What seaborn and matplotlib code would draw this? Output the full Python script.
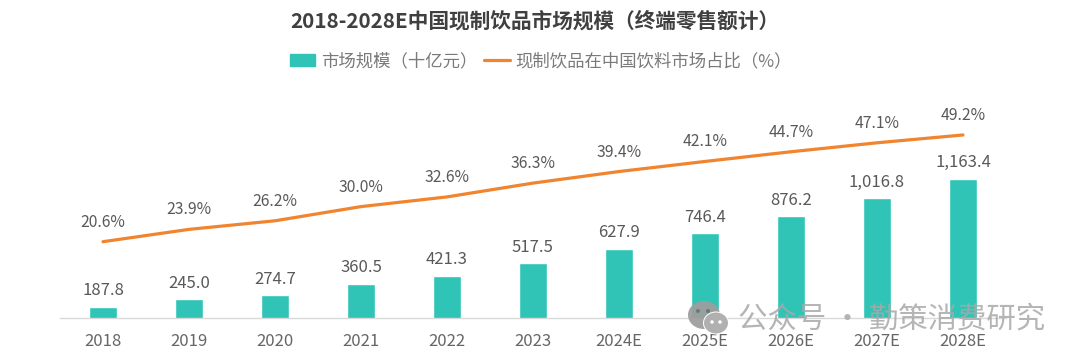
import matplotlib
matplotlib.use("Agg")
import matplotlib.pyplot as plt
import seaborn as sns
import pandas as pd
from matplotlib.patches import Ellipse, Patch
from matplotlib.lines import Line2D

years = ["2018","2019","2020","2021","2022","2023","2024E","2025E","2026E","2027E","2028E"]
market = [187.8,245.0,274.7,360.5,421.3,517.5,627.9,746.4,876.2,1016.8,1163.4]
share = [20.6,23.9,26.2,30.0,32.6,36.3,39.4,42.1,44.7,47.1,49.2]
market_labels = ["187.8","245.0","274.7","360.5","421.3","517.5","627.9","746.4","876.2","1,016.8","1,163.4"]
title = "2018-2028E中国现制饮品市场规模（终端零售额计）"
bar_name = "市场规模（十亿元）"
line_name = "现制饮品在中国饮料市场占比（%）"
watermark = "公众号 · 勤策消费研究"

sns.set_theme(style="white")
plt.rcParams['font.family'] = ['Noto Sans CJK SC', 'DejaVu Sans']
TEAL, ORANGE = "#2fc4b6", "#f0842f"
W, H = 1080, 363
fig = plt.figure(figsize=(W/100, H/100), dpi=100)
ax = fig.add_axes([60/W, 1-318/H, 946/W, 218/H])
df = pd.DataFrame({"year": years, "market": market, "share": share})
sns.barplot(data=df, x="year", y="market", order=years, color=TEAL, saturation=1,
            width=28/86, ax=ax)
ax.set_xlim(-0.5, 10.5)
ax.set_ylim(100, 1765)
ax.set_xlabel(""); ax.set_ylabel("")
ax.set_yticks([])
for s in ["top","left","right"]:
    ax.spines[s].set_visible(False)
ax.spines["bottom"].set_color("#d9d9d9")
ax.spines["bottom"].set_linewidth(1)
ax.tick_params(axis="x", length=0, pad=11, labelsize=12, labelcolor="#666666")

ax2 = ax.twinx()
sns.lineplot(x=list(range(len(years))), y=share, color=ORANGE, linewidth=2.3, ax=ax2, legend=False)
ax2.set_ylim(0.15, 58.57)
ax2.set_yticks([]); ax2.set_ylabel("")
for s in ax2.spines.values():
    s.set_visible(False)

for i, (m, lab, p) in enumerate(zip(market, market_labels, share)):
    ax.annotate(lab, (i, m), xytext=(0, 16), textcoords="offset pixels", ha="center", va="center",
                fontsize=12, color="#595959")
    ax2.annotate(f"{p:.1f}%", (i, p), xytext=(0, 19.5), textcoords="offset pixels", ha="center", va="center",
                 fontsize=11.3, color="#595959")

fig.text(535/W, 1-21/H, title, ha="center", va="center", fontsize=14.9, fontweight="bold", color="#404040")
fig.legend(handles=[Patch(color=TEAL, label=bar_name), Line2D([0],[0], color=ORANGE, lw=2.3, label=line_name)],
           loc="center", bbox_to_anchor=(541/W, 1-61/H), ncol=2, frameon=False, fontsize=12.5,
           labelcolor="#7a7a7a", handlelength=1.45, handletextpad=0.35, columnspacing=0.4)

# watermark
wm = "#a8a8a8"
fig.text(738/W, 1-319/H, watermark, ha="left", va="center", fontsize=21.2, color=wm, alpha=0.85, zorder=10)
def blob(x, y, w, h, c=wm, a=0.95):
    fig.add_artist(Ellipse((x/W, 1-y/H), w/W, h/H, facecolor=c, edgecolor="none", alpha=a, zorder=9))
blob(704, 315, 32, 28, "#9e9e9e")
blob(716, 323, 26, 23, "white", 1)
blob(716, 323, 24, 21, "#b0b0b0", 1)
for x, y in [(698, 311), (708, 311)]:
    blob(x, y, 4, 4, "#5f6f6f", 0.8)
for x, y in [(712, 322), (720, 322)]:
    blob(x, y, 3.5, 3.5, "white", 1)

fig.savefig("out.png", dpi=100)
